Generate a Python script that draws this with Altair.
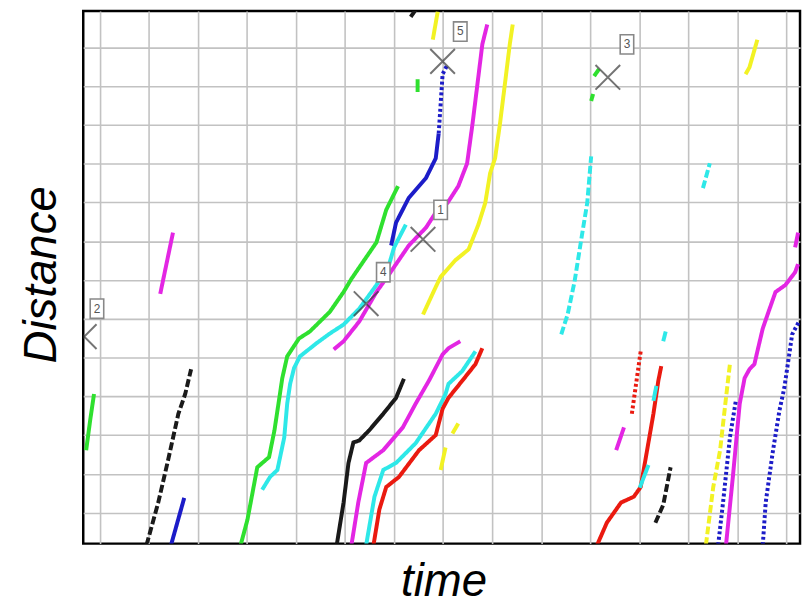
import altair as alt
import pandas as pd

# ---- trajectories: time (grid units) and distance (grid units) ----
green_left_t = [-0.28, -0.20, -0.12]
green_left_d = [1.61, 2.37, 3.06]

mag_left_t = [1.23, 1.49]
mag_left_d = [5.64, 7.22]

black_left_t = [0.95, 1.19, 1.39, 1.60, 1.74, 1.86]
black_left_d = [-0.84, 0.26, 1.35, 2.55, 3.06, 3.70]

blue_left_t = [1.45, 1.72]
blue_left_d = [-0.84, 0.38]

green_main_t = [2.87, 3.01, 3.21, 3.45, 3.56, 3.66, 3.72, 3.82, 4.06, 4.28, 4.69, 4.97, 5.13, 5.64, 5.84, 6.08]
green_main_d = [-0.84, -0.18, 1.17, 1.43, 2.12, 2.96, 3.47, 4.03, 4.49, 4.67, 5.18, 5.69, 6.03, 6.97, 7.81, 8.42]

cyan_main_t = [3.31, 3.47, 3.62, 3.76, 3.82, 3.88, 3.96, 4.08, 4.42, 4.69, 4.97, 5.29, 5.64, 5.90, 6.00, 6.24]
cyan_main_d = [0.59, 0.92, 1.10, 1.94, 2.81, 3.32, 3.73, 4.03, 4.37, 4.62, 4.85, 5.26, 5.87, 6.41, 6.84, 7.43]

mag_main_t = [4.77, 4.97, 5.29, 5.64, 5.90, 6.30, 6.65, 6.85, 7.09, 7.31, 7.49, 7.60, 7.70, 7.80, 7.90]
mag_main_d = [4.21, 4.42, 4.93, 5.69, 6.15, 6.89, 7.35, 7.74, 7.99, 8.42, 9.01, 10.03, 11.05, 12.08, 12.59]

blue_main_t = [5.94, 6.04, 6.30, 6.65, 6.85, 6.91]
blue_main_d = [6.89, 7.48, 8.12, 8.63, 9.14, 9.78]
blue_top_t = [6.91, 6.95, 6.99, 7.09]
blue_top_d = [9.78, 10.54, 11.31, 11.56]

yellow_main_t = [6.59, 6.85, 6.95, 7.25, 7.52, 7.72, 7.86, 7.96, 8.06, 8.16, 8.26, 8.36, 8.42]
yellow_main_d = [5.11, 5.82, 6.08, 6.51, 6.79, 7.43, 7.99, 8.76, 9.14, 10.03, 11.05, 12.08, 12.59]

yellow_top_t = [6.79, 6.89]
yellow_top_d = [12.20, 12.92]

black_top_t = [6.34, 6.44]
black_top_d = [12.79, 12.97]

green_small_t = [6.48, 6.48]
green_small_d = [10.85, 11.18]

green_x3_t = [10.08, 10.18]
green_x3_d = [11.26, 11.44]
green_x3b_t = [10.02, 10.06]
green_x3b_d = [10.62, 10.80]

cyan_up_t = [9.41, 9.54, 9.68, 9.84, 9.94, 10.02]
cyan_up_d = [4.60, 5.11, 5.95, 7.22, 7.99, 9.19]

cyan_short_t = [12.30, 12.44]
cyan_short_d = [8.37, 9.01]

yellow_tr_t = [13.17, 13.25, 13.41]
yellow_tr_d = [11.31, 11.49, 12.20]

mag_right_t = [12.77, 12.91, 13.05, 13.15, 13.25, 13.35, 13.41, 13.52, 13.66, 13.78, 13.98, 14.18, 14.24]
mag_right_d = [-0.84, 0.92, 2.81, 3.47, 3.70, 3.83, 4.16, 4.75, 5.26, 5.69, 5.87, 6.20, 6.41]
mag_edge_t = [14.18, 14.24]
mag_edge_d = [6.84, 7.22]

blue_r1_t = [12.61, 12.71, 12.85, 12.97]
blue_r1_d = [-0.84, 0.26, 1.94, 2.88]

blue_r2_t = [13.52, 13.58, 13.72, 13.86, 13.96, 14.06, 14.12, 14.26]
blue_r2_d = [-0.84, 0.26, 1.53, 2.63, 3.22, 4.08, 4.60, 4.93]

yellow_r_t = [12.36, 12.51, 12.65, 12.77, 12.85]
yellow_r_d = [-0.84, 0.66, 1.61, 2.96, 3.83]

red_r_t = [10.14, 10.34, 10.63, 10.89, 11.03, 11.15, 11.29, 11.39, 11.45]
red_r_d = [-0.84, -0.26, 0.26, 0.41, 0.66, 1.53, 2.55, 3.40, 3.78]

red_dot_t = [10.85, 11.03]
red_dot_d = [2.55, 4.16]

cyan_r1_t = [11.49, 11.54]
cyan_r1_d = [4.42, 4.67]
cyan_r2_t = [11.01, 11.19]
cyan_r2_d = [0.64, 1.23]
cyan_r3_t = [11.29, 11.35]
cyan_r3_d = [2.88, 3.27]

mag_small_t = [10.53, 10.69]
mag_small_d = [1.61, 2.20]

black_r_t = [11.33, 11.49, 11.64]
black_r_d = [-0.26, 0.20, 1.17]

black_mid_t = [4.83, 4.97, 5.07, 5.17, 5.29, 5.49, 5.78, 6.04, 6.20]
black_mid_d = [-0.84, 0.26, 1.28, 1.81, 1.86, 2.12, 2.55, 2.96, 3.45]

mag_mid_t = [5.13, 5.27, 5.43, 5.78, 6.18, 6.44, 6.71, 6.99, 7.11, 7.35]
mag_mid_d = [-0.84, 0.26, 1.28, 1.61, 2.20, 2.81, 3.40, 4.08, 4.24, 4.42]

cyan_mid_t = [5.43, 5.60, 5.78, 6.04, 6.44, 6.85, 7.05, 7.11, 7.39, 7.66]
cyan_mid_d = [-0.84, 0.41, 1.10, 1.28, 1.79, 2.55, 3.06, 3.32, 3.65, 4.16]

red_mid_t = [5.58, 5.70, 5.84, 6.10, 6.51, 6.85, 6.99, 7.11, 7.39, 7.66, 7.80]
red_mid_d = [-0.84, 0.08, 0.66, 0.92, 1.61, 2.00, 2.68, 2.96, 3.40, 3.83, 4.24]

yellow_low1_t = [6.95, 7.05]
yellow_low1_d = [1.10, 1.68]
yellow_low2_t = [7.19, 7.31]
yellow_low2_d = [2.04, 2.30]

# ---- markers ----
marker_labels = ["5", "3", "1", "4", "2"]
marker_t = [6.99, 10.36, 6.59, 5.43, -0.32]
marker_d = [11.64, 11.23, 7.05, 5.39, 4.54]
label_t = [7.35, 10.75, 6.95, 5.78, -0.06]
label_d = [12.41, 12.08, 7.81, 6.20, 5.26]

GREEN, MAG, CYAN, BLUE, YEL, RED, BLK = "#2fe02f", "#e326e3", "#2ee8e8", "#1c1cc8", "#f2f224", "#ea1a10", "#1a1a1a"

traces = [
    ("green_left", GREEN, green_left_t, green_left_d, "solid"),
    ("mag_left", MAG, mag_left_t, mag_left_d, "solid"),
    ("black_left", BLK, black_left_t, black_left_d, "dash"),
    ("blue_left", BLUE, blue_left_t, blue_left_d, "solid"),
    ("green_main", GREEN, green_main_t, green_main_d, "solid"),
    ("cyan_main", CYAN, cyan_main_t, cyan_main_d, "solid"),
    ("mag_main", MAG, mag_main_t, mag_main_d, "solid"),
    ("blue_main", BLUE, blue_main_t, blue_main_d, "solid"),
    ("blue_top", BLUE, blue_top_t, blue_top_d, "dot"),
    ("yellow_main", YEL, yellow_main_t, yellow_main_d, "solid"),
    ("yellow_top", YEL, yellow_top_t, yellow_top_d, "solid"),
    ("black_top", BLK, black_top_t, black_top_d, "solid"),
    ("green_small", GREEN, green_small_t, green_small_d, "solid"),
    ("green_x3", GREEN, green_x3_t, green_x3_d, "solid"),
    ("green_x3b", GREEN, green_x3b_t, green_x3b_d, "solid"),
    ("cyan_up", CYAN, cyan_up_t, cyan_up_d, "dash"),
    ("cyan_short", CYAN, cyan_short_t, cyan_short_d, "dash"),
    ("yellow_tr", YEL, yellow_tr_t, yellow_tr_d, "solid"),
    ("mag_right", MAG, mag_right_t, mag_right_d, "solid"),
    ("mag_edge", MAG, mag_edge_t, mag_edge_d, "solid"),
    ("blue_r1", BLUE, blue_r1_t, blue_r1_d, "dot"),
    ("blue_r2", BLUE, blue_r2_t, blue_r2_d, "dot"),
    ("yellow_r", YEL, yellow_r_t, yellow_r_d, "dash"),
    ("red_r", RED, red_r_t, red_r_d, "solid"),
    ("red_dot", RED, red_dot_t, red_dot_d, "dot"),
    ("cyan_r1", CYAN, cyan_r1_t, cyan_r1_d, "solid"),
    ("cyan_r2", CYAN, cyan_r2_t, cyan_r2_d, "solid"),
    ("cyan_r3", CYAN, cyan_r3_t, cyan_r3_d, "solid"),
    ("mag_small", MAG, mag_small_t, mag_small_d, "solid"),
    ("black_r", BLK, black_r_t, black_r_d, "dash"),
    ("black_mid", BLK, black_mid_t, black_mid_d, "solid"),
    ("mag_mid", MAG, mag_mid_t, mag_mid_d, "solid"),
    ("cyan_mid", CYAN, cyan_mid_t, cyan_mid_d, "solid"),
    ("red_mid", RED, red_mid_t, red_mid_d, "solid"),
    ("yellow_low1", YEL, yellow_low1_t, yellow_low1_d, "solid"),
    ("yellow_low2", YEL, yellow_low2_t, yellow_low2_d, "solid"),
]

rows = []
for name, col, ts, ds, dash in traces:
    for i, (t, d) in enumerate(zip(ts, ds)):
        rows.append({"id": name, "i": i, "time": t, "dist": d, "dash": dash})
df = pd.DataFrame(rows)

ids = [tr[0] for tr in traces]
cols = [tr[1] for tr in traces]

markers = pd.DataFrame({"t": marker_t, "d": marker_d})
labels = pd.DataFrame({"t": label_t, "d": label_d, "lab": marker_labels})

xscale = alt.Scale(domain=[-0.34, 14.28], nice=False, zero=False)
yscale = alt.Scale(domain=[-0.80, 12.94], nice=False, zero=False)

xaxis = alt.Axis(values=list(range(0, 15)), labels=False, ticks=False, domain=False,
                 grid=True, gridColor="#c2c2c2", gridWidth=1.6,
                 title="time", titleFont="Liberation Sans", titleFontSize=46,
                 titleFontStyle="italic", titleFontWeight="normal", titleColor="#000",
                 titleX=364, titleY=52, titleBaseline="alphabetic", titleAlign="center")
yaxis = alt.Axis(values=list(range(0, 13)), labels=False, ticks=False, domain=False,
                 grid=True, gridColor="#c2c2c2", gridWidth=1.6,
                 title="Distance", titleFont="Liberation Sans", titleFontSize=46,
                 titleFontStyle="italic", titleFontWeight="normal", titleColor="#000",
                 titleX=-28, titleY=266, titleAngle=270, titleBaseline="alphabetic",
                 titleAlign="center")

lines = alt.Chart(df).mark_line(strokeWidth=4, clip=True, strokeCap="butt").encode(
    x=alt.X("time:Q", scale=xscale, axis=xaxis),
    y=alt.Y("dist:Q", scale=yscale, axis=yaxis),
    detail="id:N",
    order="i:Q",
    color=alt.Color("id:N", scale=alt.Scale(domain=ids, range=cols), legend=None),
    strokeDash=alt.StrokeDash("dash:N", scale=alt.Scale(domain=["solid", "dash", "dot"],
                                                        range=[[1, 0], [8, 3], [3, 2.5]]), legend=None),
)

xmarks = alt.Chart(markers).mark_point(
    shape="M-1,-1L1,1M-1,1L1,-1", size=620, stroke="#3a3a3a", strokeWidth=2, clip=True, filled=False
).encode(x=alt.X("t:Q", scale=xscale), y=alt.Y("d:Q", scale=yscale))

boxes = alt.Chart(labels).mark_point(
    shape="M-0.7,-1L0.7,-1L0.7,1L-0.7,1Z", size=380, fill="white", fillOpacity=1,
    stroke="#888", strokeWidth=1.6, filled=False, clip=True
).encode(x=alt.X("t:Q", scale=xscale), y=alt.Y("d:Q", scale=yscale))

texts = alt.Chart(labels).mark_text(
    font="Liberation Sans", fontSize=12, color="#555", baseline="middle", align="center"
).encode(x=alt.X("t:Q", scale=xscale), y=alt.Y("d:Q", scale=yscale), text="lab:N")

chart = alt.layer(lines, xmarks, boxes, texts).properties(
    width=724, height=538,
    background="white",
    autosize=alt.AutoSizeParams(type="none"),
    padding={"left": 76, "top": 0, "right": 2, "bottom": 60},
).configure_view(stroke="#000", strokeWidth=2.5)

chart.save("out.html", embed_options={"renderer": "svg", "actions": False})
